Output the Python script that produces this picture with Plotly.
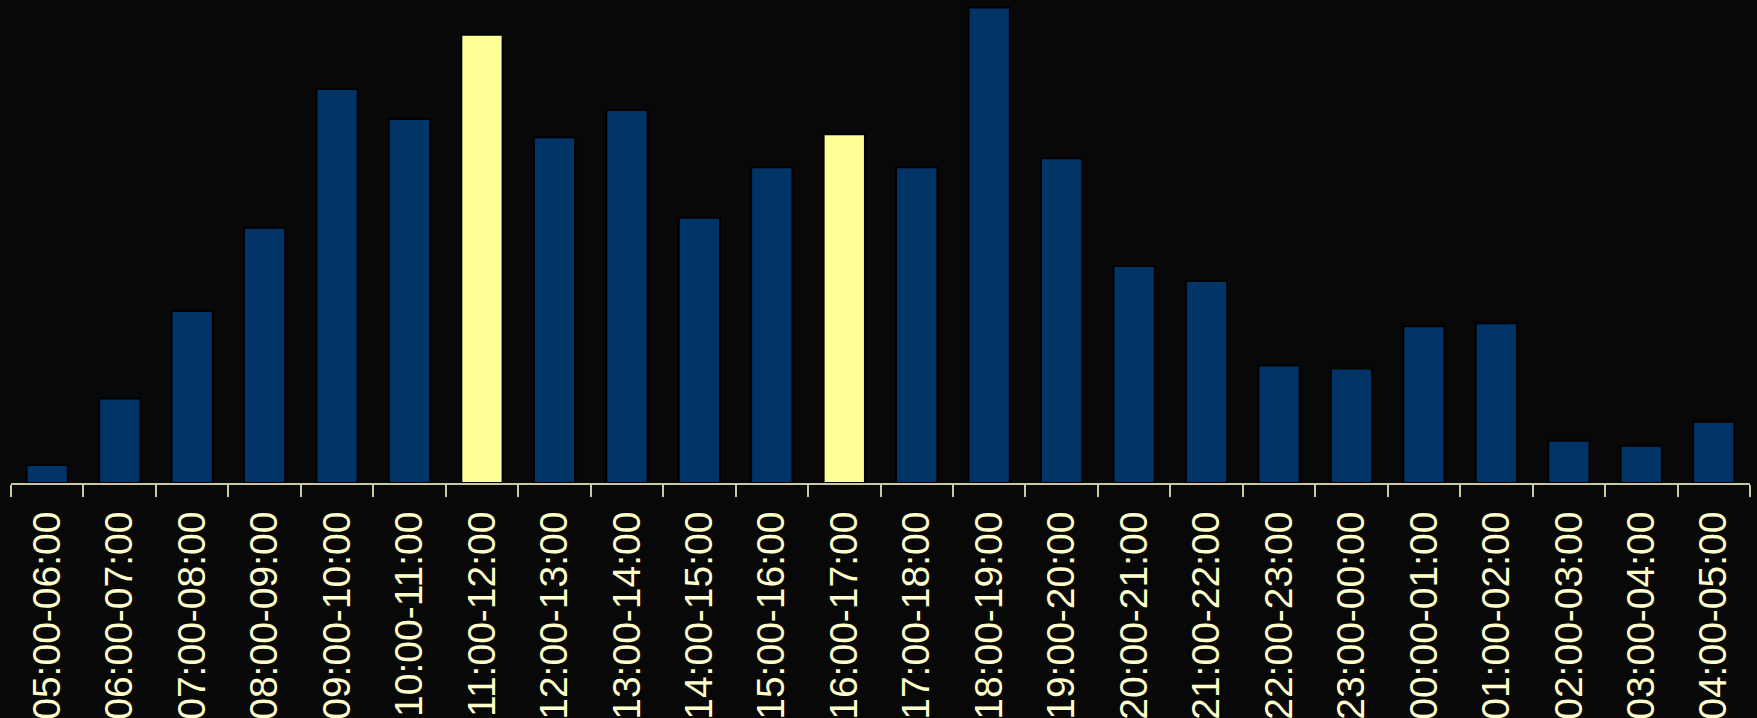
import plotly.graph_objects as go

categories = [
    "05:00-06:00", "06:00-07:00", "07:00-08:00", "08:00-09:00", "09:00-10:00",
    "10:00-11:00", "11:00-12:00", "12:00-13:00", "13:00-14:00", "14:00-15:00",
    "15:00-16:00", "16:00-17:00", "17:00-18:00", "18:00-19:00", "19:00-20:00",
    "20:00-21:00", "21:00-22:00", "22:00-23:00", "23:00-00:00", "00:00-01:00",
    "01:00-02:00", "02:00-03:00", "03:00-04:00", "04:00-05:00",
]
values = [18, 84, 171, 254, 392, 362, 446, 344, 371, 264, 314, 347,
          314, 473, 323, 216, 201, 117, 114, 156, 159, 42, 37, 61]
highlighted = ["11:00-12:00", "16:00-17:00"]

navy = "#003366"
yellow = "#FFFF99"
bar_colors = [yellow if c in highlighted else navy for c in categories]

axis_color = "#C8C8A4"
text_color = "#FFFFCC"
bg = "#080808"

fig = go.Figure(
    go.Bar(
        x=categories,
        y=values,
        marker=dict(color=bar_colors, line=dict(color="#000000", width=2)),
        hoverinfo="x+y",
    )
)

fig.update_layout(
    width=1757,
    height=718,
    paper_bgcolor=bg,
    plot_bgcolor=bg,
    margin=dict(l=11, r=7, t=0, b=235, autoexpand=False),
    bargap=0.43,
    showlegend=False,
    font=dict(family="Liberation Sans, Arial, sans-serif", color=text_color),
)

fig.update_xaxes(
    type="category",
    range=[-0.5, len(categories) - 0.5],
    tickangle=-90,
    tickfont=dict(size=39, color=text_color, family="Liberation Sans, Arial, sans-serif"),
    tickson="boundaries",
    ticks="outside",
    ticklen=12,
    tickwidth=1.5,
    tickcolor=axis_color,
    ticklabelstandoff=11,
    showline=True,
    linecolor=axis_color,
    linewidth=2,
    showgrid=False,
    zeroline=False,
    automargin=False,
    fixedrange=True,
)

fig.update_yaxes(
    range=[0, 480.5],
    visible=False,
    showgrid=False,
    zeroline=False,
    fixedrange=True,
)

fig.write_html(
    "out.html",
    config={"displayModeBar": False},
    post_script="document.body.style.margin='0';document.body.style.background='#080808';document.body.style.overflow='hidden';",
)
